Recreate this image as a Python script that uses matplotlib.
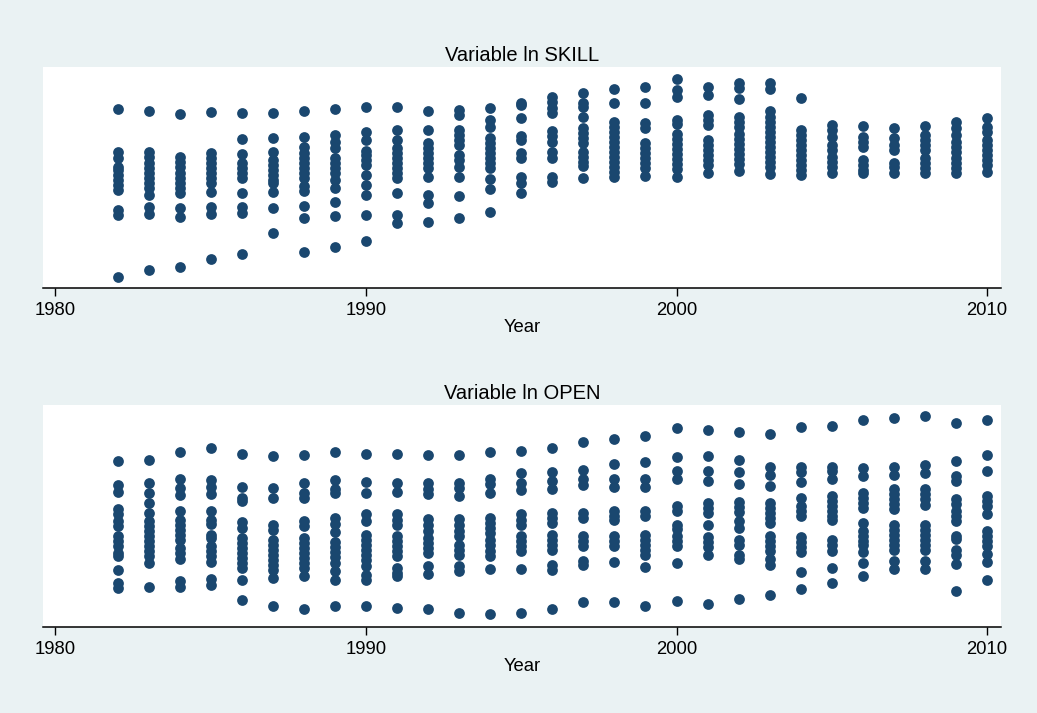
import matplotlib
matplotlib.use('agg')
import matplotlib.pyplot as plt

# years on the x axis
years = list(range(1982, 2011))

# ln SKILL values, one list per year
skill = [
    [8.94, 6.82, 6.49, 6.07, 5.9, 5.65, 5.4, 5.15, 4.9, 3.9, 3.65, 0.57],
    [8.87, 6.82, 6.57, 6.24, 5.99, 5.74, 5.49, 5.24, 4.99, 4.65, 4.07, 3.7, 0.9],
    [8.7, 6.57, 6.32, 6.07, 5.74, 5.49, 5.24, 4.99, 4.74, 3.99, 3.54, 1.04],
    [8.79, 6.74, 6.49, 6.24, 5.99, 5.74, 5.49, 5.24, 4.82, 4.07, 3.7, 1.47],
    [8.74, 7.44, 6.7, 6.24, 5.99, 5.74, 5.49, 4.77, 4.07, 3.74, 1.7],
    [8.74, 7.49, 6.82, 6.4, 6.15, 5.9, 5.65, 5.4, 5.24, 4.79, 3.99, 2.77],
    [8.85, 7.54, 7.04, 6.74, 6.49, 6.24, 5.99, 5.74, 5.49, 5.1, 4.87, 4.12, 3.52, 1.79],
    [8.94, 7.65, 7.32, 6.99, 6.49, 6.24, 5.99, 5.74, 5.4, 4.99, 4.32, 3.6, 2.04],
    [9.07, 7.82, 7.4, 6.87, 6.65, 6.4, 6.15, 5.65, 5.15, 4.65, 3.65, 2.37],
    [9.07, 7.9, 7.4, 6.99, 6.74, 6.49, 6.24, 5.99, 5.74, 5.49, 4.74, 3.65, 3.27],
    [8.85, 7.9, 7.24, 6.99, 6.74, 6.49, 6.24, 5.99, 5.57, 4.65, 4.24, 3.32],
    [8.9, 8.65, 7.9, 7.65, 7.4, 7.15, 6.65, 6.4, 6.07, 5.54, 4.6, 3.52],
    [8.99, 8.4, 8.07, 7.49, 7.24, 6.99, 6.74, 6.49, 6.24, 5.99, 5.44, 4.95, 3.82],
    [9.27, 9.15, 8.49, 7.6, 7.4, 6.74, 6.49, 5.57, 5.24, 4.77],
    [9.57, 9.32, 8.99, 8.74, 7.87, 7.6, 7.32, 6.82, 6.49, 5.57, 5.32],
    [9.77, 9.27, 9.07, 8.54, 7.99, 7.74, 7.49, 7.24, 6.82, 6.57, 6.32, 6.1, 5.52],
    [9.95, 9.24, 8.32, 8.07, 7.82, 7.57, 7.32, 7.07, 6.82, 6.57, 6.32, 6.07, 5.82, 5.54],
    [10.07, 9.24, 8.24, 7.99, 7.24, 6.99, 6.74, 6.49, 6.24, 5.99, 5.6],
    [10.44, 9.9, 9.57, 8.4, 8.2, 7.7, 7.45, 7.2, 6.95, 6.7, 6.45, 6.2, 5.95, 5.57],
    [10.04, 9.65, 8.65, 8.4, 8.15, 7.4, 7.15, 6.9, 6.65, 6.4, 6.15, 5.77],
    [10.27, 9.99, 9.44, 8.54, 8.29, 8.04, 7.7, 7.45, 7.2, 6.95, 6.7, 6.45, 6.2, 5.85],
    [10.27, 9.94, 8.87, 8.57, 8.32, 8.07, 7.82, 7.57, 7.32, 7.07, 6.82, 6.57, 6.32, 6.07, 5.7],
    [9.52, 7.9, 7.65, 7.4, 7.15, 6.9, 6.65, 6.4, 6.15, 5.9, 5.65],
    [8.15, 7.9, 7.57, 7.15, 6.9, 6.57, 6.32, 6.07, 5.74],
    [8.1, 7.57, 7.32, 7.04, 6.4, 6.15, 5.9, 5.74],
    [7.99, 7.49, 7.15, 6.9, 6.27, 6.07, 5.77],
    [8.12, 7.65, 7.4, 7.15, 6.9, 6.49, 6.24, 5.99, 5.77],
    [8.29, 7.99, 7.65, 7.32, 7.07, 6.82, 6.49, 6.24, 5.99, 5.74],
    [8.49, 8.07, 7.82, 7.4, 7.15, 6.9, 6.65, 6.4, 6.15, 5.82],
]

# ln OPEN values
openness = [
    [8.27, 7.05, 6.72, 5.85, 5.6, 5.27, 5.02, 4.52, 4.27, 4.02, 3.69, 3.52, 2.82, 2.19, 1.94],
    [8.3, 7.19, 6.69, 6.15, 5.69, 5.27, 5.02, 4.77, 4.52, 4.27, 4.02, 3.77, 3.52, 3.19, 1.99],
    [8.69, 7.39, 6.94, 6.55, 5.77, 5.35, 5.1, 4.85, 4.6, 4.35, 3.94, 3.69, 3.39, 2.27, 1.99],
    [8.9, 7.3, 6.99, 6.6, 5.77, 5.35, 5.15, 4.6, 4.44, 4.02, 3.77, 3.52, 3.22, 2.39, 2.1],
    [8.6, 6.99, 6.44, 6.27, 5.22, 4.94, 4.44, 4.19, 3.94, 3.69, 3.44, 3.19, 2.94, 2.32, 1.35],
    [8.52, 6.94, 6.44, 5.1, 4.85, 4.35, 4.1, 3.85, 3.6, 3.35, 3.1, 2.85, 2.44, 1.05],
    [8.55, 7.15, 6.69, 6.44, 5.27, 5.02, 4.44, 4.19, 3.94, 3.69, 3.44, 3.19, 2.94, 2.55, 0.89],
    [8.69, 7.32, 6.85, 6.65, 5.44, 5.15, 4.72, 4.22, 3.97, 3.72, 3.47, 3.19, 2.77, 2.35, 1.05],
    [8.6, 7.22, 6.65, 5.6, 5.27, 4.6, 4.35, 4.1, 3.85, 3.6, 3.35, 3.02, 2.6, 2.35, 1.07],
    [8.6, 7.19, 6.72, 5.6, 5.35, 5.1, 4.52, 4.27, 4.02, 3.77, 3.52, 2.94, 2.69, 2.52, 0.94],
    [8.57, 7.15, 6.89, 6.6, 5.39, 5.1, 4.77, 4.44, 4.19, 3.94, 3.69, 3.05, 2.65, 0.9],
    [8.57, 7.15, 6.94, 6.52, 5.39, 5.1, 4.77, 4.55, 4.1, 3.85, 3.6, 3.02, 2.77, 0.69],
    [8.69, 7.35, 7.1, 6.69, 5.44, 5.19, 4.94, 4.69, 4.35, 4.1, 3.77, 3.52, 2.89, 0.65],
    [8.74, 7.65, 7.19, 6.82, 5.6, 5.35, 5.1, 4.52, 4.27, 4.02, 3.77, 2.89, 0.69],
    [8.89, 7.72, 7.27, 6.85, 5.69, 5.44, 5.19, 4.6, 4.35, 4.1, 3.85, 3.1, 2.85, 0.89],
    [9.19, 7.8, 7.35, 7.05, 5.69, 5.44, 4.52, 4.27, 4.02, 3.27, 3.07, 1.24],
    [9.35, 8.1, 7.35, 6.99, 5.77, 5.52, 5.32, 4.52, 4.27, 4.02, 3.24, 1.24],
    [9.52, 8.19, 7.39, 6.99, 5.77, 5.52, 4.6, 4.35, 4.1, 3.85, 3.6, 2.97, 1.05],
    [9.89, 8.47, 7.77, 7.35, 6.02, 5.77, 5.1, 4.89, 4.52, 4.27, 4.02, 3.19, 1.27],
    [9.8, 8.52, 7.74, 7.27, 6.19, 5.94, 5.69, 5.07, 4.49, 4.24, 3.99, 3.6, 1.15],
    [9.69, 8.32, 7.69, 7.1, 6.22, 5.97, 5.72, 5.27, 4.94, 4.35, 4.1, 3.6, 3.39, 1.39],
    [9.6, 7.97, 7.55, 7.02, 6.19, 5.94, 5.69, 5.44, 5.19, 4.52, 4.27, 4.02, 3.77, 3.39, 3.1, 1.57],
    [9.94, 7.97, 7.69, 7.22, 6.4, 6.02, 5.77, 5.52, 4.49, 4.22, 3.97, 3.72, 2.72, 1.9],
    [10.02, 7.94, 7.77, 7.35, 6.52, 6.27, 6.02, 5.77, 5.52, 5.32, 4.35, 4.1, 3.77, 2.94, 2.19],
    [10.3, 7.89, 7.52, 6.69, 6.44, 6.19, 5.94, 5.19, 4.77, 4.52, 4.27, 4.1, 3.72, 3.19, 2.55],
    [10.39, 7.94, 7.55, 6.85, 6.6, 6.35, 6.1, 5.85, 5.1, 4.85, 4.6, 4.35, 4.1, 3.82, 3.27, 2.89],
    [10.52, 8.05, 7.65, 6.85, 6.6, 6.35, 6.05, 5.1, 4.85, 4.6, 4.35, 4.1, 3.85, 3.27, 2.89],
    [10.15, 8.24, 7.52, 7.27, 6.35, 6.1, 5.77, 5.52, 5.27, 4.52, 4.39, 3.85, 3.6, 3.15, 1.77],
    [10.32, 8.55, 7.77, 6.52, 6.27, 6.02, 5.6, 4.77, 4.52, 4.27, 4.02, 3.65, 3.22, 2.35],
]

panels = [("Variable ln SKILL", skill), ("Variable ln OPEN", openness)]
xticks = [1980, 1990, 2000, 2010]

BG = '#eaf2f3'
NAVY = '#1a476f'

plt.rcParams['font.family'] = ['Liberation Sans', 'DejaVu Sans']

fig = plt.figure(figsize=(10.37, 7.13), dpi=100, facecolor=BG)
boxes = [[0.0415, 0.5961, 0.9238, 0.3099], [0.0415, 0.1206, 0.9238, 0.3114]]

for (title, vals), box in zip(panels, boxes):
    ax = fig.add_axes(box)
    ax.set_facecolor('white')
    xs, ys = [], []
    for yr, col in zip(years, vals):
        xs += [yr] * len(col)
        ys += col
    ax.scatter(xs, ys, s=60, color=NAVY, linewidths=0, zorder=3)
    ax.set_xlim(1979.6, 2010.45)
    ax.set_ylim(0, 11.05)
    ax.set_xticks(xticks)
    ax.set_yticks([])
    for side in ['top', 'right', 'left']:
        ax.spines[side].set_visible(False)
    ax.spines['bottom'].set_linewidth(1.1)
    ax.tick_params(axis='x', length=6, width=1, pad=4, labelsize=13.3)
    ax.set_xlabel("Year", fontsize=13.3, labelpad=0)
    ax.set_title(title, fontsize=14.5, pad=4)

plt.savefig('out.png', dpi=100, facecolor=BG)
plt.close()
